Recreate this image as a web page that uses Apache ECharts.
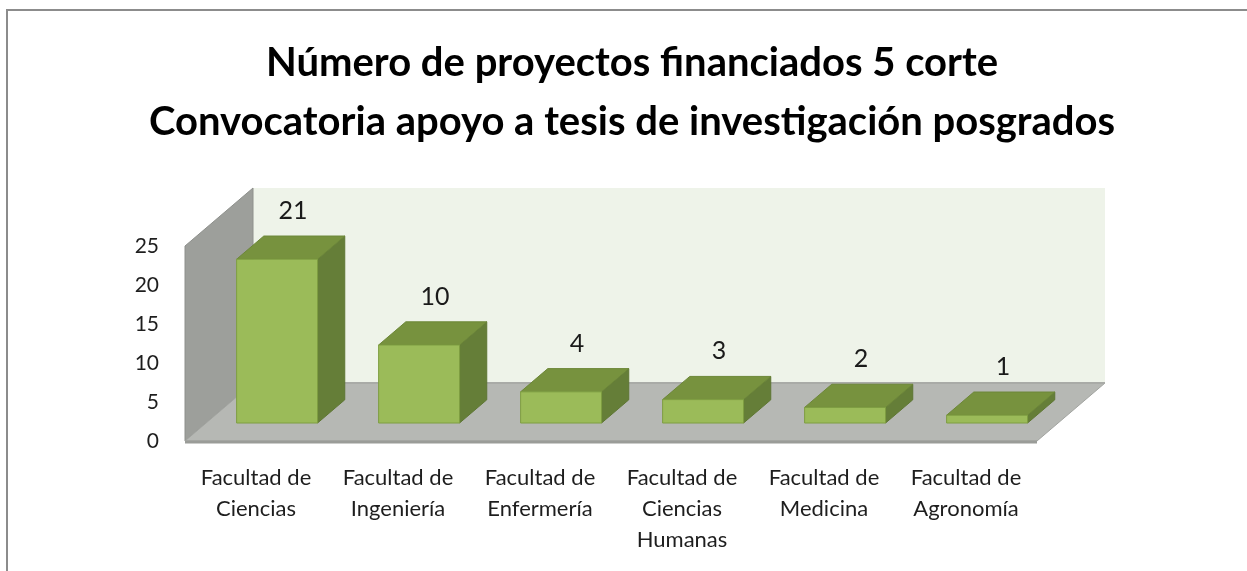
<!DOCTYPE html>
<html>
<head>
<meta charset="utf-8">
<script src="https://cdn.jsdelivr.net/npm/echarts@6/dist/echarts.min.js"></script>
<style>
html,body{margin:0;padding:0;background:#fff;}
#chart{width:1247px;height:571px;}
</style>
</head>
<body>
<div id="chart"></div>
<script>
const titleLines = ['Número de proyectos financiados 5 corte', 'Convocatoria apoyo a tesis de investigación posgrados'];
const categories = ['Facultad de\nCiencias', 'Facultad de\nIngeniería', 'Facultad de\nEnfermería', 'Facultad de\nCiencias\nHumanas', 'Facultad de\nMedicina', 'Facultad de\nAgronomía'];
const values = [21, 10, 4, 3, 2, 1];
const yTicks = { min: 0, max: 25, interval: 5 };

const DX = 68, DY = -58;       // depth offset of the 3D box
const F1 = 0.31, F2 = 0.71;    // bar depth front/back fraction
const BAR_W = 0.57;            // bar width fraction of band
const FONT = 'Lato, "Noto Sans", sans-serif';

const chart = echarts.init(document.getElementById('chart'));

function wallsRender(params, api) {
  const cs = params.coordSys;
  const x = cs.x, y = cs.y, w = cs.width, h = cs.height;
  return {
    type: 'group',
    children: [
      { type: 'polygon', shape: { points: [[x + DX, y + DY], [x + w + DX, y + DY], [x + w + DX, y + h + DY], [x + DX, y + h + DY]] },
        style: { fill: '#EEF3E9', stroke: null } },
      { type: 'polygon', shape: { points: [[x, y], [x + DX, y + DY], [x + DX, y + h + DY], [x, y + h]] },
        style: { fill: '#9D9F9B', stroke: '#8E908C', lineWidth: 1 } },
      { type: 'polygon', shape: { points: [[x, y + h], [x + DX, y + h + DY], [x + w + DX, y + h + DY], [x + w, y + h]] },
        style: { fill: '#B6B8B4', stroke: '#A2A4A0', lineWidth: 1 } },
      { type: 'line', shape: { x1: x, y1: y + h + 1, x2: x + w, y2: y + h + 1 },
        style: { stroke: '#9A9C98', lineWidth: 3 } },
      { type: 'line', shape: { x1: x + DX, y1: y + h + DY, x2: x + w + DX, y2: y + h + DY },
        style: { stroke: '#A9ABA7', lineWidth: 2 } }
    ]
  };
}

function barRender(params, api) {
  const idx = api.value(0);
  const val = api.value(1);
  const base = api.coord([idx, 0]);
  const topY = api.coord([idx, val])[1];
  const band = api.size([1, 0])[0];
  const bw = band * BAR_W;
  const fl = base[0] - bw / 2 + F1 * DX;
  const fr = fl + bw;
  const fb = base[1] + F1 * DY;
  const ft = topY + F1 * DY;
  const ddx = (F2 - F1) * DX, ddy = (F2 - F1) * DY;
  return {
    type: 'group',
    children: [
      { type: 'polygon', shape: { points: [[fr, ft], [fr + ddx, ft + ddy], [fr + ddx, fb + ddy], [fr, fb]] },
        style: { fill: '#657E38', stroke: '#5E7633', lineWidth: 1 } },
      { type: 'polygon', shape: { points: [[fl, ft], [fr, ft], [fr + ddx, ft + ddy], [fl + ddx, ft + ddy]] },
        style: { fill: '#77923E', stroke: '#6C8738', lineWidth: 1 } },
      { type: 'rect', shape: { x: fl, y: ft, width: bw, height: fb - ft },
        style: { fill: '#9BBB59', stroke: '#7E9E42', lineWidth: 1 } },
      { type: 'text', style: { text: String(val), x: (fl + fr) / 2 + 16, y: ft + ddy - 25,
        align: 'center', verticalAlign: 'middle', fill: '#1a1a1a', font: '25px ' + FONT } }
    ]
  };
}

chart.setOption({
  animation: false,
  backgroundColor: '#ffffff',
  title: {
    text: titleLines.join('\n'),
    left: 627, top: 29, textAlign: 'center',
    textStyle: { fontFamily: FONT, fontWeight: 'bold', fontSize: 40, lineHeight: 59, color: '#000' }
  },
  graphic: [
    { type: 'rect', shape: { x: 7, y: 10, width: 1260, height: 600 }, style: { fill: null, stroke: '#8C8C8C', lineWidth: 2 }, z: 100 }
  ],
  grid: { left: 185, right: 210, top: 246, bottom: 130 },
  xAxis: {
    type: 'category', data: categories,
    axisLine: { show: false }, axisTick: { show: false },
    axisLabel: { interval: 0, margin: 21, fontFamily: FONT, fontSize: 22, lineHeight: 31, color: '#1e1e1e' }
  },
  yAxis: {
    type: 'value', min: yTicks.min, max: yTicks.max, interval: yTicks.interval,
    axisLine: { show: false }, axisTick: { show: false }, splitLine: { show: false },
    axisLabel: { margin: 26, fontFamily: FONT, fontSize: 21, color: '#1e1e1e' }
  },
  series: [
    { type: 'custom', renderItem: wallsRender, data: [[0]], z: 1, silent: true },
    { type: 'custom', renderItem: barRender, data: values.map((v, i) => [i, v]), z: 2, encode: { x: 0, y: 1 } }
  ]
});
</script>
</body>
</html>
